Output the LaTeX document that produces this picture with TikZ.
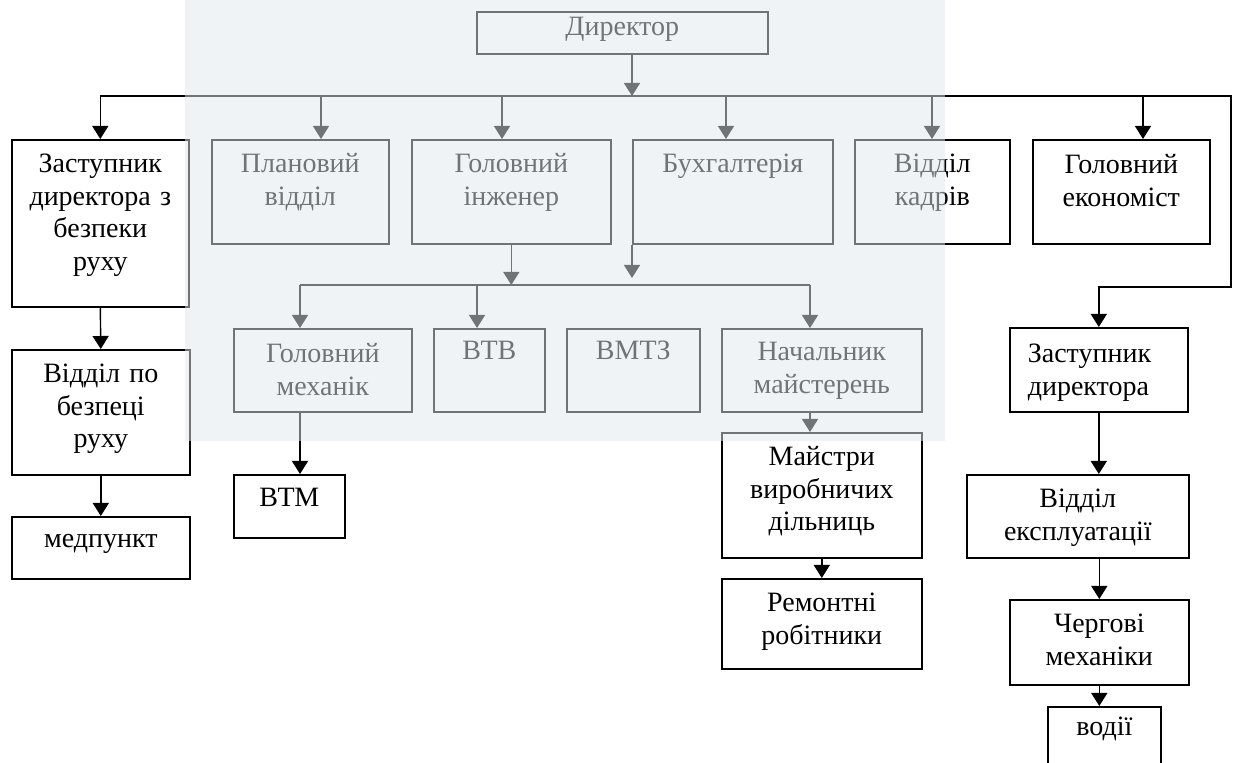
\documentclass[tikz,border=0pt]{standalone}
\usepackage{fontspec}
\setmainfont{Liberation Serif}
\usetikzlibrary{arrows.meta,positioning}
\definecolor{veil}{RGB}{226,232,238}
\tikzstyle{unit}=[draw, line width=0.8pt, align=center, inner sep=0pt, anchor=north west, text height=16.5pt]
\tikzstyle{veilbox}=[fill=veil, fill opacity=0.5]

\begin{document}
\begin{tikzpicture}[x=0.5pt,y=-0.5pt,>={Triangle[width=8pt,length=6.5pt]},line width=0.7pt,font=\fontsize{14pt}{16.25pt}\selectfont]
    \useasboundingbox (0,0) rectangle (1233,763);
    \clip (0,0) rectangle (1233,763);
    % top
    \node [unit, text width=145.5pt, text height=12pt, text depth=9pt] (dir) at (476,11) {Директор};
    \node [unit, text width=88.5pt, text depth=67pt] (zbr) at (11,139) {Заступник\\директора з\\безпеки\\руху};
    \node [unit, text width=88.5pt, text depth=35.5pt] (plan) at (211,139) {Плановий\\відділ};
    \node [unit, text width=99.5pt, text depth=35.5pt] (inzh) at (411,139) {Головний\\інженер};
    \node [unit, text width=100pt, text depth=35.5pt] (buh) at (632,139) {Бухгалтерія};
    \node [unit, text width=77.5pt, text depth=35.5pt] (kad) at (854,139) {Відділ\\кадрів};
    \node [unit, text width=88.5pt, text height=17pt, text depth=35pt] (econ) at (1032,139) {Головний\\економіст};
    % left column
    \node [unit, text width=89pt, text depth=46pt] (vbr) at (11,349) {Відділ по\\безпеці\\руху};
    \node [unit, text width=89pt, text height=15.5pt, text depth=15.5pt] (med) at (11,516) {медпункт};
    % second level
    \node [unit, text width=89pt, text height=17pt, text depth=24.5pt] (gm) at (233,328) {Головний\\механік};
    \node [unit, text width=55.5pt, text height=15.5pt, text depth=26pt] (vtv) at (433,328) {ВТВ};
    \node [unit, text width=66.5pt, text height=15.5pt, text depth=26pt] (vmtz) at (566,328) {ВМТЗ};
    \node [unit, text width=100pt, text height=16pt, text depth=25.5pt] (nm) at (721,328) {Начальник\\майстерень};
    \node [unit, text width=55.5pt, text height=16pt, text depth=15.5pt] (btm) at (233,474) {ВТМ};
    \node [unit, text width=100pt, text depth=46pt] (ms) at (721,432) {Майстри\\виробничих\\дільниць};
    \node [unit, text width=100pt, text depth=28.5pt] (rr) at (721,578) {Ремонтні\\робітники};
    % right column
    \node [unit, align=left, inner xsep=9pt, text width=71pt, text height=17.5pt, text depth=24.5pt] (zd) at (1009,327) {Заступник\\директора};
    \node [unit, text width=111pt, text depth=25pt] (ve) at (966,474) {Відділ\\експлуатації};
    \node [unit, text width=89.5pt, text depth=26pt] (cm) at (1009,599) {Чергові\\механіки};
    \node [unit, text width=56.5pt, text height=14.5pt, text depth=32.5pt] (vod) at (1047,706) {водії};
    % bus points
    \coordinate (b0) at (632,96);
    \coordinate (b1) at (321,96);
    \coordinate (b2) at (502,96);
    \coordinate (b3) at (726,96);
    \coordinate (b4) at (932,96);
    \coordinate (b5) at (1143,96);
    \coordinate (rt) at (1231,287);
    \coordinate (c1) at (300,285);
    \coordinate (c2) at (477,285);
    \coordinate (c3) at (810,285);
    \coordinate (c4) at (632,278);
    % connectors
    \draw[->] (dir.south -| b0) -- (b0);
    \draw[->] (b0) -| (zbr.north);
    \draw[->] (b0) -| (rt) -| (zd.north);
    \foreach \b/\n in {b1/plan,b2/inzh,b3/buh,b4/kad,b5/econ}
        \draw[->] (\b) -- (\b |- \n.north);
    \draw[->] (inzh.south) -- (inzh.south |- c1);
    \draw[->] (buh.south west) -- (c4);
    \draw (c1) -- (c3);
    \foreach \c/\n in {c1/gm,c2/vtv,c3/nm}
        \draw[->] (\c) -- (\c |- \n.north);
    \draw[->] (gm.south -| c1) -- (btm.north -| c1);
    \draw[->] (nm.south -| c3) -- (ms.north -| c3);
    \draw[->] (ms.south) -- (rr.north);
    \draw[->] (zbr.south) -- (vbr.north);
    \draw[->] (vbr.south) -- (med.north);
    \draw[->] (zd.south) -- (zd.south |- ve.north);
    \draw[->] (cm.north |- ve.south) -- (cm.north);
    \draw[->] (cm.south) -- (cm.south |- vod.north);
    % faded block
    \fill[veilbox] (185,0) rectangle (945,441);
\end{tikzpicture}
\end{document}
